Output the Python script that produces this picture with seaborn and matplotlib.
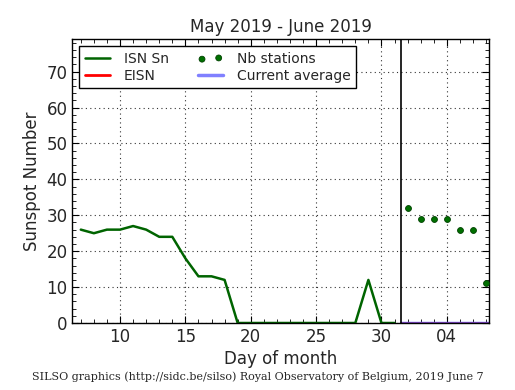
import matplotlib
matplotlib.use('Agg')
import matplotlib.pyplot as plt
import seaborn as sns
import pandas as pd
from matplotlib.ticker import MultipleLocator, FixedLocator, FixedFormatter

sns.set_style('ticks')
plt.rcParams['font.family'] = ['DejaVu Sans']

# Data (day of month, June days continue after 31)
isn_days = list(range(7, 32))
isn_values = [26, 25, 26, 26, 27, 26, 24, 24, 18, 13, 13, 12,
              0, 0, 0, 0, 0, 0, 0, 0, 0, 0, 12, 0, 0]
station_days = [32, 33, 34, 35, 36, 37, 38]
station_values = [32, 29, 29, 29, 26, 26, 11]
eisn_days = [31.5, 38.3]
eisn_values = [0, 0]
avg_days = [31.5, 38.3]
avg_values = [0, 0]
tick_days = [10, 15, 20, 25, 30, 35]
tick_labels = ['10', '15', '20', '25', '30', '04']
month_boundary = 31.5

isn = pd.DataFrame({'day': isn_days, 'value': isn_values})
stations = pd.DataFrame({'day': station_days, 'value': station_values})

fig = plt.figure(figsize=(5.15, 3.9), dpi=100)
ax = fig.add_axes([0.1404, 0.1718, 0.8097, 0.7274])

sns.lineplot(data=isn, x='day', y='value', color='#006400', lw=1.8,
             label='ISN Sn', ax=ax)
ax.plot(eisn_days, eisn_values, color='red', lw=2, label='EISN')
sns.scatterplot(data=stations, x='day', y='value', color='#007000',
                edgecolor='#004000', s=18, linewidth=0.6,
                label='Nb stations', ax=ax, zorder=3)
ax.plot(avg_days, avg_values, color='#5555ff', lw=2.5, alpha=0.75,
        label='Current average')
ax.axvline(month_boundary, color='black', lw=1.2)

ax.set_xlim(6.35, 38.25)
ax.set_ylim(0, 79)
ax.xaxis.set_major_locator(FixedLocator(tick_days))
ax.xaxis.set_major_formatter(FixedFormatter(tick_labels))
ax.xaxis.set_minor_locator(MultipleLocator(1))
ax.yaxis.set_major_locator(MultipleLocator(10))
ax.yaxis.set_minor_locator(MultipleLocator(2))
ax.tick_params(which='both', direction='in', top=True, right=True,
               labelsize=12, color='black')
ax.tick_params(which='major', length=5, width=0.8)
ax.tick_params(which='minor', length=3, width=0.6)
ax.grid(True, which='major', color='#333333', linestyle=(0, (1, 3)), lw=0.8)
for s in ax.spines.values():
    s.set_color('black')
    s.set_linewidth(1)

ax.set_title('May 2019 - June 2019', fontsize=12, pad=5)
ax.set_xlabel('Day of month', fontsize=12, labelpad=3)
ax.set_ylabel('Sunspot Number', fontsize=12, labelpad=4)

ax.legend(loc='upper left', ncol=2, fontsize=10, frameon=True,
          fancybox=False, edgecolor='black', framealpha=1,
          scatterpoints=2, borderaxespad=0.5, columnspacing=2.1,
          handlelength=1.8, handletextpad=1.0, labelspacing=0.2)

fig.text(0.5, 0.035, 'SILSO graphics (http://sidc.be/silso) Royal Observatory of Belgium, 2019 June 7',
         ha='center', va='center', fontsize=8, family='DejaVu Serif')

fig.savefig('out.png', dpi=100)
